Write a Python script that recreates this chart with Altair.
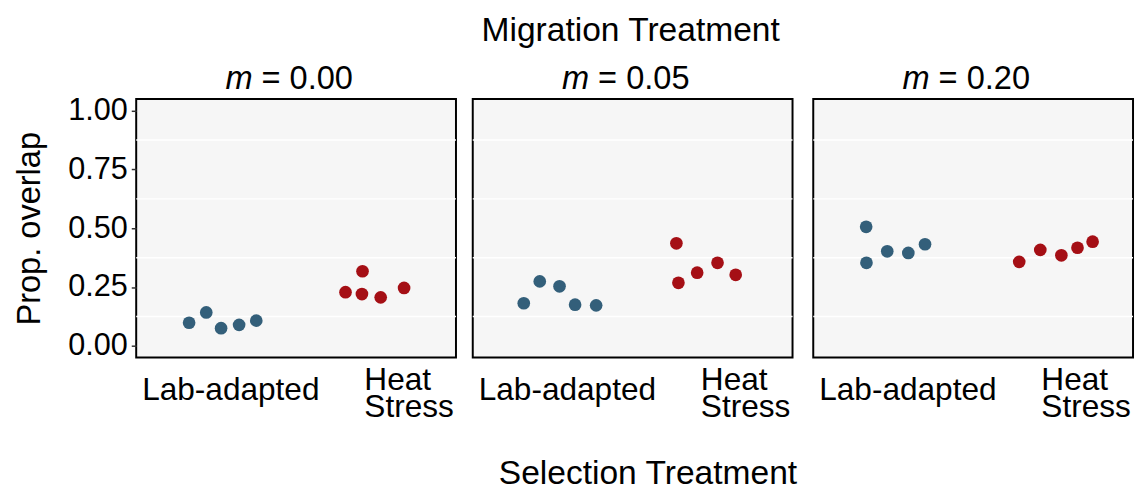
import altair as alt
import pandas as pd

# ---- data ----
migration = ["0.00", "0.05", "0.20"]
selection = ["Lab-adapted", "Heat Stress"]

lab_overlap = [
    [0.098, 0.142, 0.075, 0.089, 0.107],
    [0.181, 0.274, 0.253, 0.175, 0.172],
    [0.506, 0.353, 0.402, 0.395, 0.432],
]
lab_jitter = [
    [-0.236, -0.118, -0.016, 0.108, 0.226],
    [-0.249, -0.139, -0.003, 0.104, 0.249],
    [-0.236, -0.234, -0.091, 0.054, 0.169],
]
heat_overlap = [
    [0.228, 0.317, 0.220, 0.206, 0.246],
    [0.436, 0.268, 0.311, 0.353, 0.302],
    [0.357, 0.408, 0.385, 0.417, 0.443],
]
heat_jitter = [
    [-0.160, -0.043, -0.047, 0.082, 0.243],
    [-0.199, -0.185, -0.056, 0.084, 0.209],
    [-0.183, -0.038, 0.107, 0.218, 0.322],
]
y_ticks = [0.0, 0.25, 0.50, 0.75, 1.00]
grid_values = [0.125, 0.375, 0.625, 0.875]
colors = ["#335F7A", "#A50F15"]

rows = []
for i, m in enumerate(migration):
    for j, (vals, jit) in enumerate([(lab_overlap[i], lab_jitter[i]),
                                     (heat_overlap[i], heat_jitter[i])]):
        for v, jj in zip(vals, jit):
            rows.append({"migration": m, "selection": selection[j],
                         "pos": j + 1 + jj, "overlap": v})
df = pd.DataFrame(rows)

FONT = "Liberation Sans"
W, H = 324, 262
yscale = alt.Scale(domain=[-0.05, 1.05], nice=False, zero=False)
xscale = alt.Scale(domain=[0.4, 2.6], nice=False, zero=False)


def panel(i):
    m = migration[i]
    d = df[df["migration"] == m]

    if i == 0:
        yaxis = alt.Axis(values=y_ticks, format=".2f", title="Prop. overlap",
                         grid=False, domain=False, ticks=True, tickSize=5,
                         tickWidth=1.5, tickColor="#333333", labelFontSize=31,
                         labelPadding=4, labelColor="black", labelFont=FONT,
                         titleFont=FONT, titleFontSize=33, titleFontWeight="normal",
                         titlePadding=22, titleColor="black")
        yenc = alt.Y("overlap:Q", scale=yscale, axis=yaxis)
    else:
        yenc = alt.Y("overlap:Q", scale=yscale, axis=None)

    xaxis_kw = dict(
        values=[1, 2],
        labelExpr="datum.value == 1 ? 'Lab-adapted' : ['Heat', 'Stress']",
        ticks=False, tickSize=0, domain=False, grid=False,
        labelFont=FONT, labelFontSize=32, labelColor="black",
        labelLineHeight=28, labelBaseline="alphabetic",
        labelAlign={"condition": {"test": "datum.value == 2", "value": "left"},
                    "value": "center"},
        labelOffset={"condition": {"test": "datum.value == 2", "value": -5},
                     "value": 7},
        labelPadding={"condition": {"test": "datum.value == 2", "value": 32},
                      "value": 43},
    )
    if i == 1:
        xaxis_kw.update(title="Selection Treatment", titleFont=FONT,
                        titleFontSize=34, titleFontWeight="normal",
                        titleColor="black", titleX=177, titleY=128,
                        titleBaseline="alphabetic", titleAlign="center")
        xenc = alt.X("pos:Q", scale=xscale, axis=alt.Axis(**xaxis_kw))
    else:
        xenc = alt.X("pos:Q", scale=xscale, axis=alt.Axis(**xaxis_kw), title=None)

    grid = alt.Chart(pd.DataFrame({"overlap": grid_values})).mark_rule(
        color="white", strokeWidth=1.5).encode(y=yenc)

    pts = alt.Chart(d).mark_circle(size=165, opacity=1).encode(
        x=xenc, y=yenc,
        color=alt.Color("selection:N",
                        scale=alt.Scale(domain=selection, range=colors),
                        legend=None))

    hdr = pd.DataFrame({"sym": ["m"], "rest": ["= " + m]})
    m_txt = alt.Chart(hdr).mark_text(
        font=FONT, fontSize=33, fontStyle="italic", align="right",
        baseline="alphabetic", color="black").encode(
        text="sym:N", x=alt.value(118), y=alt.value(-10))
    rest_txt = alt.Chart(hdr).mark_text(
        font=FONT, fontSize=33, align="left",
        baseline="alphabetic", color="black").encode(
        text="rest:N", x=alt.value(127), y=alt.value(-10))

    layers = [grid, pts, m_txt, rest_txt]
    if i == 1:
        top = alt.Chart(pd.DataFrame({"t": ["Migration Treatment"]})).mark_text(
            font=FONT, fontSize=34, align="center", baseline="alphabetic",
            color="black").encode(text="t:N", x=alt.value(160), y=alt.value(-59))
        layers.append(top)
    return alt.layer(*layers).properties(width=W, height=H)


chart = alt.hconcat(panel(0), panel(1), panel(2), spacing=13).properties(
    padding={"left": 12, "top": 10, "right": 0, "bottom": 0},
    background="white",
).configure(
    font=FONT,
    view=alt.ViewConfig(stroke="black", strokeWidth=2, fill="#F6F6F6"),
)

chart.save("out.html", embed_options={"renderer": "svg", "actions": False})
